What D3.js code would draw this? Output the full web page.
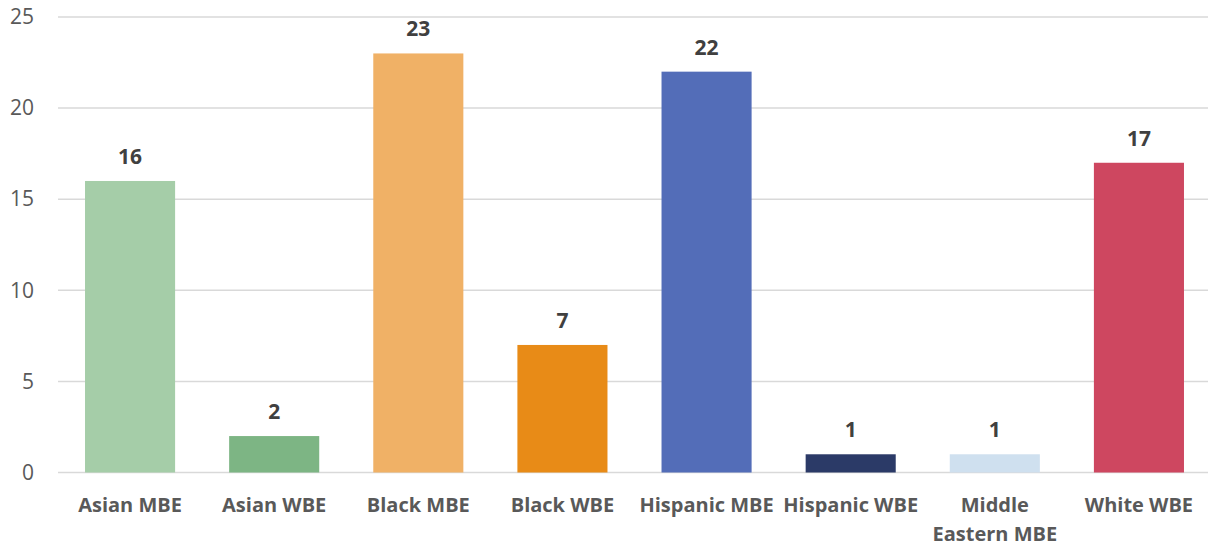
<!DOCTYPE html>
<html>
<head>
<meta charset="utf-8">
<script src="https://cdn.jsdelivr.net/npm/d3@7/dist/d3.min.js"></script>
<style>
  html, body { margin: 0; padding: 0; background: #fff; }
  svg { display: block; }
</style>
</head>
<body>
<svg id="chart" width="1208" height="546"></svg>
<script>
// Certified firms by ownership group
const categories = ["Asian MBE", "Asian WBE", "Black MBE", "Black WBE", "Hispanic MBE", "Hispanic WBE", "Middle Eastern MBE", "White WBE"];
const values = [16, 2, 23, 7, 22, 1, 1, 17];
const colors = ["#A5CDA8", "#7DB584", "#F0B166", "#E88B17", "#536DB8", "#2B3A67", "#CFE0EF", "#CE4760"];
const yTicks = [0, 5, 10, 15, 20, 25];

const svg = d3.select("#chart");
const font = "'Open Sans', 'Liberation Sans', sans-serif";
const plot = { left: 58, right: 1211, top: 17, bottom: 472.5 };

const x = d3.scaleBand()
  .domain(categories)
  .range([plot.left, plot.right])
  .paddingInner(0.375)
  .paddingOuter(0.1875);

const y = d3.scaleLinear()
  .domain([0, 25])
  .range([plot.bottom, plot.top]);

// Horizontal gridlines
svg.append("g")
  .selectAll("line")
  .data(yTicks)
  .join("line")
  .attr("x1", plot.left)
  .attr("x2", 1208)
  .attr("y1", d => y(d))
  .attr("y2", d => y(d))
  .attr("stroke", "#d9d9d9")
  .attr("stroke-width", 1.5);

// Y axis labels
const yAxis = d3.axisLeft(y).tickValues(yTicks).tickSize(0).tickPadding(0);
const yg = svg.append("g")
  .attr("transform", `translate(34,0)`)
  .call(yAxis);
yg.select(".domain").remove();
yg.selectAll("text")
  .attr("font-family", font)
  .attr("font-size", 21)
  .attr("fill", "#595959");

// Bars
svg.append("g")
  .selectAll("rect")
  .data(categories)
  .join("rect")
  .attr("x", d => x(d))
  .attr("width", x.bandwidth())
  .attr("y", (d, i) => y(values[i]))
  .attr("height", (d, i) => y(0) - y(values[i]))
  .attr("fill", (d, i) => colors[i]);

// Value labels
svg.append("g")
  .selectAll("text")
  .data(categories)
  .join("text")
  .attr("x", d => x(d) + x.bandwidth() / 2)
  .attr("y", (d, i) => y(values[i]) - 17)
  .attr("text-anchor", "middle")
  .attr("font-family", font)
  .attr("font-weight", "bold")
  .attr("font-size", 21)
  .attr("fill", "#404040")
  .text((d, i) => values[i]);

// Category labels (wrap long names onto two lines)
const xAxis = d3.axisBottom(x).tickSize(0).tickPadding(0);
const xg = svg.append("g")
  .attr("transform", `translate(0,${plot.bottom})`)
  .call(xAxis);
xg.select(".domain").remove();
xg.selectAll("text")
  .attr("font-family", font)
  .attr("font-weight", "bold")
  .attr("font-size", 20)
  .attr("fill", "#595959")
  .attr("y", 0)
  .attr("dy", null)
  .each(function(d) {
    const t = d3.select(this);
    const lines = d === "Middle Eastern MBE" ? ["Middle", "Eastern MBE"] : [d];
    t.text(null);
    lines.forEach((ln, k) => {
      t.append("tspan")
        .attr("x", 0)
        .attr("y", 39 + k * 29)
        .text(ln);
    });
  });
</script>
</body>
</html>
